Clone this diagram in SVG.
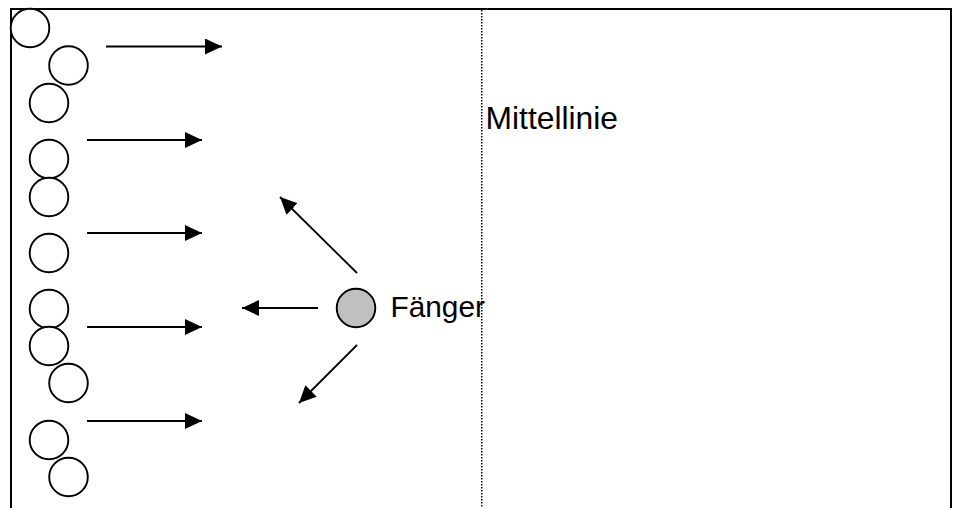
<svg xmlns="http://www.w3.org/2000/svg" width="957" height="508" viewBox="0 0 957 508">
  <style>
    .field { fill: none; stroke: #000; stroke-width: 2; }
    .midline { stroke: #000; stroke-width: 1.5; stroke-dasharray: 1.5 1.5; }
    .player { fill: #fff; stroke: #000; stroke-width: 1.9; }
    .catcher { fill: #c0c0c0; stroke: #000; stroke-width: 1.9; }
    .conn { stroke: #000; stroke-width: 1.8; fill: none; marker-end: url(#head); }
    .label { font-family: "Liberation Sans", Arial, sans-serif; fill: #000; }
  </style>
  <defs>
    <marker id="head" markerUnits="userSpaceOnUse" markerWidth="17" markerHeight="16" refX="17" refY="8" orient="auto">
      <path d="M0,0 L17,8 L0,16 z" fill="#000"/>
    </marker>
  </defs>
  <rect width="957" height="508" fill="#fff"/>

  <!-- playing field: left, top and right edges -->
  <path class="field" d="M11,508 L11,9 L951,9 L951,508"/>
  <line class="midline" x1="481.7" y1="10" x2="481.7" y2="508"/>

  <g id="mittellinie-label">
    <text class="label" x="485.5" y="128.5" font-size="31.8">Mittellinie</text>
  </g>

  <!-- runners lined up on the left edge -->
  <g id="runner-1"><circle class="player" cx="30" cy="28" r="19.3"/></g>
  <g id="runner-2"><circle class="player" cx="68.5" cy="65.5" r="19.3"/></g>
  <g id="runner-3"><circle class="player" cx="49" cy="103" r="19.3"/></g>
  <g id="runner-4"><circle class="player" cx="49" cy="159" r="19.3"/></g>
  <g id="runner-5"><circle class="player" cx="49" cy="197" r="19.3"/></g>
  <g id="runner-6"><circle class="player" cx="49" cy="253" r="19.3"/></g>
  <g id="runner-7"><circle class="player" cx="49" cy="309" r="19.3"/></g>
  <g id="runner-8"><circle class="player" cx="49" cy="346" r="19.3"/></g>
  <g id="runner-9"><circle class="player" cx="68.5" cy="383" r="19.3"/></g>
  <g id="runner-10"><circle class="player" cx="49" cy="440" r="19.3"/></g>
  <g id="runner-11"><circle class="player" cx="68.5" cy="477" r="19.3"/></g>

  <!-- catcher -->
  <g id="faenger">
    <circle class="catcher" cx="356" cy="308" r="19.3"/>
    <text class="label" x="390.5" y="317.3" font-size="29.8">Fänger</text>
  </g>

  <g id="connectors">
    <line class="conn" x1="106" y1="46.5" x2="222" y2="46.5"/>
    <line class="conn" x1="87" y1="140" x2="202" y2="140"/>
    <line class="conn" x1="87" y1="233" x2="202" y2="233"/>
    <line class="conn" x1="87" y1="327" x2="202" y2="327"/>
    <line class="conn" x1="87" y1="421" x2="202" y2="421"/>
    <line class="conn" x1="357" y1="273" x2="280" y2="197"/>
    <line class="conn" x1="318" y1="308" x2="242" y2="308"/>
    <line class="conn" x1="357" y1="345" x2="299" y2="403"/>
  </g>
</svg>
